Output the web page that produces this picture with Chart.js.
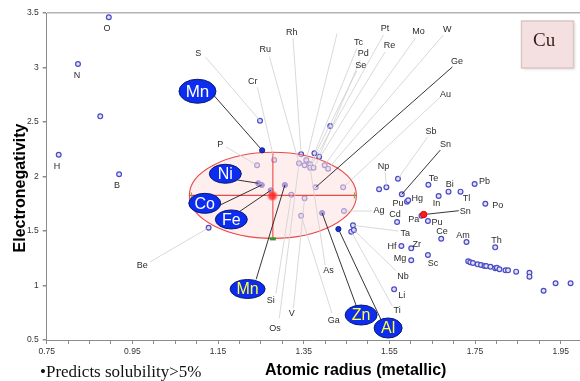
<!DOCTYPE html>
<html>
<head>
<meta charset="utf-8">
<script src="https://cdn.jsdelivr.net/npm/chart.js@4"></script>
<style>
  html, body { margin: 0; padding: 0; background: #fff; overflow: hidden; }
  #grafico { display: block; }
</style>
</head>
<body>
<canvas id="grafico" width="580" height="381"></canvas>
<script>
// Raio atômico (metálico) x eletronegatividade
const openRadius = [
  0.895, 0.823, 0.875, 0.778, 0.919, 1.128, 1.248, 1.241,
  1.281, 1.344, 1.375, 1.386, 1.339, 1.352, 1.356, 1.365, 1.365, 1.373, 1.399, 1.407,
  1.378, 1.442, 1.321, 1.352, 1.344, 1.444, 1.465, 1.461, 1.467, 1.412,
  1.526, 1.543, 1.570, 1.579, 1.591, 1.594, 1.641, 1.665, 1.688, 1.716, 1.749, 1.774,
  1.625, 1.640, 1.568, 1.671, 1.730, 1.797, 1.578, 1.601, 1.601, 1.640, 1.561,
  1.734, 1.739, 1.745, 1.756, 1.764, 1.772, 1.776, 1.786, 1.797, 1.801, 1.807, 1.821, 1.827, 1.846, 1.877, 1.877, 1.910, 1.938, 1.973
];
const openEN = [
  3.461, 3.032, 2.552, 2.200, 2.020, 1.530, 2.512, 2.103,
  2.151, 2.204, 2.213, 2.182, 2.121, 2.103, 2.151, 2.112, 2.081, 2.081, 2.103, 2.072,
  1.901, 1.901, 1.833, 1.800, 1.640, 1.683, 1.552, 1.494, 1.509, 2.463,
  1.883, 1.901, 1.980, 1.837, 1.769, 1.782, 1.925, 1.821, 1.861, 1.861, 1.931, 1.750,
  1.640, 1.592, 1.583, 1.429, 1.399, 1.350, 1.362, 1.341, 1.231, 1.280, 0.965,
  1.222, 1.213, 1.206, 1.194, 1.188, 1.179, 1.179, 1.172, 1.158, 1.163, 1.149, 1.139, 1.139, 1.127, 1.117, 1.081, 0.952, 1.020, 1.020
];
// pontos cheios dentro da elipse (Ni, Co, Fe, Mn, Zn)
const insideRadius = [1.244, 1.252, 1.273, 1.306, 1.393];
const insideEN = [1.938, 1.922, 1.873, 1.922, 1.665];
// solutos destacados fora da elipse (Mn, Al)
const soluteRadius = [1.253, 1.431];
const soluteEN = [2.240, 1.518];
// pontos vermelhos (Cu e Sn)
const redRadius = [1.277, 1.630];
const redEN = [1.824, 1.651];

// elipse em torno do Cu: centro e tolerâncias (raio, eletronegatividade)
const cuCenter = [1.278, 1.827];
const cuTol = [0.195, 0.395];

const xTicks = [0.75, 0.95, 1.15, 1.35, 1.55, 1.75, 1.95];
const yTicks = [0.5, 1, 1.5, 2, 2.5, 3, 3.5];

// rótulos dos elementos (posição em unidades do gráfico)
const labelNames = ['O','N','H','B','Be','S','Cr','Ru','Rh','P','Tc','Pd','Se','Pt','Re','Mo','W','Ge','Au','Sb','Sn','Np','Te','Bi','Pb','Pu','Hg','In','Tl','Po','Ag','Cd','Pa','Sn','Pu','Ta','Ce','Am','Th','Hf','Zr','Mg','Sc','Nb','Li','Ti','Si','V','Os','As','Ga'];
const labelRadius = [0.891,0.821,0.774,0.914,0.973,1.104,1.231,1.260,1.322,1.155,1.478,1.489,1.483,1.540,1.550,1.618,1.685,1.708,1.681,1.647,1.681,1.536,1.653,1.691,1.772,1.570,1.615,1.660,1.730,1.803,1.526,1.563,1.607,1.727,1.661,1.587,1.673,1.722,1.800,1.556,1.614,1.575,1.652,1.582,1.579,1.568,1.273,1.322,1.283,1.408,1.420];
const labelEN = [3.362,2.922,2.096,1.913,1.179,3.124,2.870,3.161,3.319,2.289,3.231,3.124,3.017,3.360,3.206,3.328,3.353,3.053,2.754,2.417,2.289,2.096,1.977,1.925,1.952,1.754,1.796,1.754,1.796,1.732,1.686,1.647,1.601,1.681,1.580,1.475,1.494,1.457,1.411,1.362,1.374,1.246,1.204,1.078,0.904,0.766,0.858,0.745,0.607,1.136,0.683];

// rótulos grandes (elipses azuis)
const bigNames = ['Mn','Ni','Co','Fe','Mn','Zn','Al'];
const bigRadius = [1.102, 1.167, 1.119, 1.181, 1.219, 1.484, 1.547];
const bigEN = [2.782, 2.025, 1.754, 1.606, 0.968, 0.729, 0.610];

// linhas de chamada [x1, y1, x2, y2]
const grayLeaders = [
  [0.991,1.216,1.128,1.530], [1.120,3.099,1.248,2.512], [1.169,2.271,1.241,2.103],
  [1.242,2.818,1.281,2.151], [1.270,3.099,1.339,2.121], [1.325,3.268,1.344,2.204],
  [1.428,3.314,1.356,2.151], [1.474,3.176,1.375,2.213], [1.482,3.069,1.386,2.182],
  [1.474,2.968,1.365,2.112], [1.536,3.298,1.365,2.081], [1.540,3.142,1.373,2.081],
  [1.611,3.271,1.399,2.103], [1.676,3.298,1.407,2.072], [1.669,2.729,1.442,1.901],
  [1.639,2.362,1.570,1.980], [1.540,2.041,1.543,1.901], [1.285,0.928,1.321,1.833],
  [1.326,0.791,1.352,1.800], [1.293,0.699,1.339,2.121], [1.400,1.188,1.365,2.081],
  [1.416,0.745,1.344,1.640], [1.510,1.683,1.444,1.683], [1.571,1.500,1.465,1.552],
  [1.566,1.133,1.467,1.509], [1.557,0.812,1.461,1.494]
];
const blackLeaders = [
  [1.136,2.763,1.253,2.240], [1.195,1.968,1.244,1.938], [1.150,1.729,1.252,1.922],
  [1.195,1.665,1.273,1.873], [1.239,1.057,1.306,1.922], [1.472,0.821,1.393,1.665],
  [1.533,0.665,1.431,1.518], [1.697,3.005,1.378,1.901], [1.669,2.243,1.579,1.837],
  [1.712,1.686,1.630,1.651]
];

function toPoints(xs, ys) {
  return xs.map((v, i) => ({ x: v, y: ys[i] }));
}

const sans = '"Liberation Sans", Arial, sans-serif';
const serif = '"Liberation Serif", "Times New Roman", serif';

// desenhos extras: elipse do Cu, linhas de chamada, rótulos e textos
const overlay = {
  id: 'overlay',
  afterDatasetDraw(chart, args) {
    if (args.index !== 2) return;
    const ctx = chart.ctx;
    const sx = chart.scales.x, sy = chart.scales.y;
    const cx = sx.getPixelForValue(cuCenter[0]);
    const cy = sy.getPixelForValue(cuCenter[1]);
    const rx = sx.getPixelForValue(cuCenter[0] + cuTol[0]) - cx;
    const ry = cy - sy.getPixelForValue(cuCenter[1] + cuTol[1]);
    ctx.save();
    ctx.beginPath();
    ctx.ellipse(cx, cy, rx, ry, 0, 0, Math.PI * 2);
    ctx.fillStyle = 'rgba(255,224,224,0.55)';
    ctx.fill();
    ctx.strokeStyle = '#e84a4a';
    ctx.lineWidth = 1.1;
    ctx.stroke();
    ctx.beginPath();
    ctx.moveTo(cx - rx, cy); ctx.lineTo(cx + rx, cy);
    ctx.moveTo(cx, cy - ry); ctx.lineTo(cx, cy + ry);
    ctx.stroke();
    // pequenas marcas nas pontas
    ctx.strokeStyle = '#8a9a40';
    ctx.lineWidth = 1;
    ctx.beginPath();
    ctx.moveTo(cx - rx + 2, cy - 3); ctx.lineTo(cx - rx + 2, cy + 3);
    ctx.moveTo(cx + rx - 2, cy - 3); ctx.lineTo(cx + rx - 2, cy + 3);
    ctx.stroke();
    ctx.fillStyle = '#2f9a2f';
    ctx.fillRect(cx - 3, cy + ry - 1, 6, 3);

    // linhas de chamada
    const drawLines = (list, color, width) => {
      ctx.strokeStyle = color;
      ctx.lineWidth = width;
      list.forEach(l => {
        ctx.beginPath();
        ctx.moveTo(sx.getPixelForValue(l[0]), sy.getPixelForValue(l[1]));
        ctx.lineTo(sx.getPixelForValue(l[2]), sy.getPixelForValue(l[3]));
        ctx.stroke();
      });
    };
    drawLines(grayLeaders, '#cfcfcf', 0.8);
    drawLines(blackLeaders, '#1e1e1e', 0.9);
    ctx.restore();
  },
  afterDatasetsDraw(chart) {
    const ctx = chart.ctx;
    const sx = chart.scales.x, sy = chart.scales.y;
    ctx.save();

    // rótulos pequenos
    ctx.font = '9px ' + sans;
    ctx.fillStyle = '#2b2b2b';
    ctx.textAlign = 'center';
    ctx.textBaseline = 'middle';
    labelNames.forEach((name, i) => {
      ctx.fillText(name, sx.getPixelForValue(labelRadius[i]), sy.getPixelForValue(labelEN[i]));
    });

    // elipses azuis
    const bigSize = [[18.5, 12, 17], [16, 9.5, 16], [16, 10, 16], [16, 9.5, 16], [17.5, 9.5, 16], [16, 10, 16], [14, 10, 16]];
    bigNames.forEach((name, i) => {
      const px = sx.getPixelForValue(bigRadius[i]);
      const py = sy.getPixelForValue(bigEN[i]);
      const s = bigSize[i];
      ctx.beginPath();
      ctx.ellipse(px, py, s[0], s[1], 0, 0, Math.PI * 2);
      ctx.fillStyle = '#0c2df0';
      ctx.fill();
      ctx.strokeStyle = '#0a1a6e';
      ctx.lineWidth = 1;
      ctx.stroke();
      ctx.font = s[2] + 'px ' + sans;
      ctx.fillStyle = i >= 4 ? '#ffff3a' : '#ffffff';
      ctx.fillText(name, px, py + 1);
    });

    // caixa do Cu
    ctx.shadowColor = 'rgba(0,0,0,0.18)';
    ctx.shadowBlur = 3;
    ctx.shadowOffsetX = 1;
    ctx.shadowOffsetY = 1;
    ctx.fillStyle = '#f4e0e0';
    ctx.fillRect(521.5, 21, 52, 47);
    ctx.shadowColor = 'transparent';
    ctx.strokeStyle = '#dcc6c6';
    ctx.lineWidth = 1.5;
    ctx.strokeRect(521.5, 21, 52, 47);
    ctx.font = '19px ' + serif;
    ctx.fillStyle = '#3a1c1c';
    ctx.textAlign = 'left';
    ctx.textBaseline = 'alphabetic';
    ctx.fillText('Cu', 533, 46);

    // títulos dos eixos
    ctx.font = 'bold 16px ' + sans;
    ctx.fillStyle = '#000';
    ctx.fillText('Atomic radius (metallic)', 265, 375);
    ctx.save();
    ctx.translate(24.5, 188);
    ctx.rotate(-Math.PI / 2);
    ctx.textAlign = 'center';
    ctx.fillText('Electronegativity', 0, 0);
    ctx.restore();

    ctx.font = '17px ' + serif;
    ctx.fillStyle = '#111';
    ctx.textAlign = 'left';
    ctx.fillText('\u2022Predicts solubility>5%', 40, 377);
    ctx.restore();
  }
};

const ctx = document.getElementById('grafico');
new Chart(ctx, {
  type: 'scatter',
  data: {
    datasets: [
      {
        label: 'Cu',
        data: toPoints(redRadius, redEN),
        pointRadius: [4.2, 3.2],
        backgroundColor: ['rgba(255,30,30,0.8)', '#ff1a1a'],
        borderColor: ['rgba(255,110,110,0.45)', '#e00000'],
        borderWidth: [2.5, 1]
      },
      {
        label: 'solutos',
        data: toPoints(soluteRadius, soluteEN),
        pointRadius: 2.6,
        backgroundColor: '#1c2fd4',
        borderColor: '#13208f',
        borderWidth: 1
      },
      {
        label: 'dentro',
        data: toPoints(insideRadius, insideEN),
        pointRadius: 2.6,
        backgroundColor: '#4d4dd6',
        borderColor: '#3a3ac0',
        borderWidth: 1
      },
      {
        label: 'elementos',
        data: toPoints(openRadius, openEN),
        pointRadius: 2.4,
        backgroundColor: '#e2e2f7',
        borderColor: '#4a4ac6',
        borderWidth: 1.2
      }
    ]
  },
  options: {
    responsive: false,
    animation: false,
    devicePixelRatio: 1,
    events: [],
    layout: { autoPadding: false, padding: { top: 13, right: 0, left: 0, bottom: 0 } },
    plugins: {
      legend: { display: false },
      tooltip: { enabled: false }
    },
    scales: {
      x: {
        type: 'linear',
        min: 0.75,
        max: 1.995,
        afterFit: function (scale) {
          scale.height = 41;
          scale.paddingLeft = 0;
          scale.paddingRight = 0;
        },
        border: { color: '#8c8c8c', width: 1 },
        grid: { drawOnChartArea: false, tickLength: 4, tickColor: '#8c8c8c' },
        ticks: {
          stepSize: 0.05,
          includeBounds: false,
          autoSkip: false,
          maxRotation: 0,
          padding: 3,
          color: '#333',
          font: { size: 8.5, family: sans },
          callback: function (value) {
            return xTicks.some(t => Math.abs(t - value) < 1e-6) ? value.toFixed(2) : '';
          }
        }
      },
      y: {
        type: 'linear',
        min: 0.5,
        max: 3.5,
        afterFit: function (scale) {
          scale.width = 46.7;
          scale.paddingTop = 0;
          scale.paddingBottom = 0;
        },
        border: { color: '#8c8c8c', width: 1 },
        grid: {
          color: c => (c.tick && c.tick.value === 3.5) ? '#b3b3b3' : 'rgba(0,0,0,0)',
          lineWidth: 1.5,
          tickLength: 4,
          tickColor: '#8c8c8c'
        },
        ticks: {
          stepSize: 0.5,
          padding: 4,
          color: '#333',
          font: { size: 8.5, family: sans },
          callback: function (value) {
            return yTicks.includes(value) ? String(value) : '';
          }
        }
      }
    }
  },
  plugins: [overlay]
});
</script>
</body>
</html>
